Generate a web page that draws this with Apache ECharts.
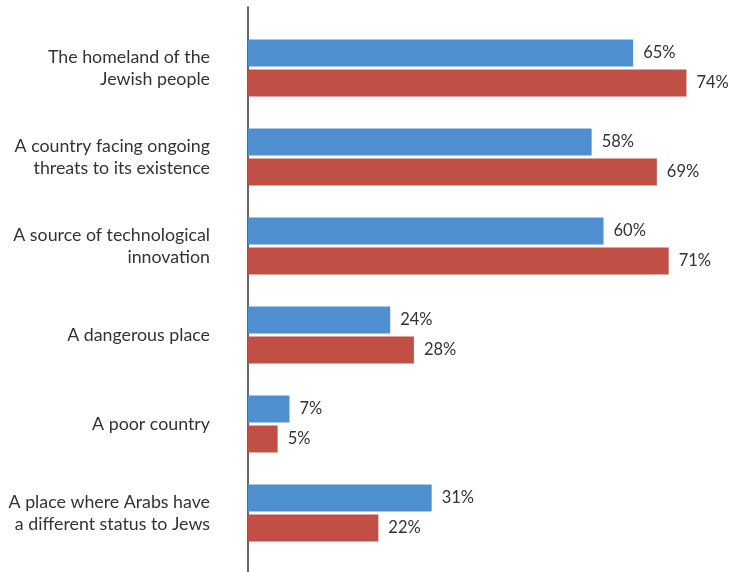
<!DOCTYPE html>
<html>
<head>
<meta charset="utf-8">
<script src="https://cdn.jsdelivr.net/npm/echarts@6/dist/echarts.min.js"></script>
<style>
  html, body { margin: 0; padding: 0; background: #fff; }
  #chart { width: 731px; height: 572px; }
</style>
</head>
<body>
<div id="chart"></div>
<script>
// Statements shown on the category axis (top to bottom)
const categories = [
  'The homeland of the\nJewish people',
  'A country facing ongoing\nthreats to its existence',
  'A source of technological\ninnovation',
  'A dangerous place',
  'A poor country',
  'A place where Arabs have\na different status to Jews'
];
// Percentages for the two groups
const seriesBlue = [65, 58, 60, 24, 7, 31];
const seriesRed = [74, 69, 71, 28, 5, 22];

const FONT = 'Lato';
const TEXT = '#333333';

const chart = echarts.init(document.getElementById('chart'));

const barLabel = {
  show: true,
  position: 'right',
  distance: 10,
  formatter: '{c}%',
  fontFamily: FONT,
  fontSize: 16.5,
  color: TEXT
};

chart.setOption({
  animation: false,
  grid: [
    { left: 248, right: 9, top: 23.5, bottom: 14.5 },
    // full-height frame carrying the vertical axis line
    { left: 248, right: 9, top: 7, bottom: 0 }
  ],
  xAxis: [
    { type: 'value', gridIndex: 0, min: 0, max: 80, show: false },
    { type: 'value', gridIndex: 1, min: 0, max: 80, show: false }
  ],
  yAxis: [
    {
      type: 'category',
      gridIndex: 0,
      data: categories,
      inverse: true,
      axisLine: { show: false },
      axisTick: { show: false },
      axisLabel: {
        margin: 38,
        fontFamily: FONT,
        fontSize: 17.8,
        lineHeight: 22,
        color: TEXT,
        align: 'right'
      }
    },
    {
      type: 'value',
      gridIndex: 1,
      min: 0,
      max: 1,
      axisLine: { show: true, lineStyle: { color: '#333333', width: 1.5 } },
      axisTick: { show: false },
      axisLabel: { show: false },
      splitLine: { show: false }
    }
  ],
  series: [
    {
      type: 'bar',
      xAxisIndex: 0,
      yAxisIndex: 0,
      data: seriesBlue,
      barWidth: 27,
      barGap: '11%',
      itemStyle: { color: '#4e8fcf' },
      label: barLabel
    },
    {
      type: 'bar',
      xAxisIndex: 0,
      yAxisIndex: 0,
      data: seriesRed,
      barWidth: 27,
      barGap: '11%',
      itemStyle: { color: '#c24f46' },
      label: barLabel
    }
  ]
});
</script>
</body>
</html>
